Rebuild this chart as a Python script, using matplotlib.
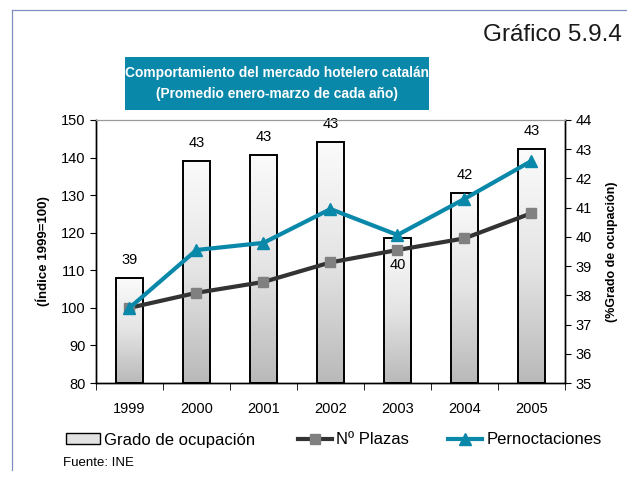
import numpy as np
import matplotlib.pyplot as plt
from matplotlib.lines import Line2D
from matplotlib.patches import Patch, Rectangle
from matplotlib.colors import LinearSegmentedColormap

plt.rcParams['font.family'] = ['Liberation Sans', 'DejaVu Sans']

years = ['1999', '2000', '2001', '2002', '2003', '2004', '2005']
ocupacion = [38.6, 42.6, 42.8, 43.25, 39.95, 41.5, 43.0]
ocupacion_labels = ['39', '43', '43', '43', '40', '42', '43']
plazas = [100, 104.0, 106.9, 112.1, 115.4, 118.5, 125.2]
pernoctaciones = [100, 115.4, 117.3, 126.3, 119.4, 129.0, 139.1]

TEAL = '#0a88aa'
x = np.arange(len(years))

fig = plt.figure(figsize=(6.27, 4.78), dpi=100)
ax = fig.add_axes([0.1531, 0.1987, 0.748, 0.5503])
ax2 = ax.twinx()
ax.set_zorder(ax2.get_zorder() + 1)
ax.patch.set_visible(False)

# bars with a vertical gradient (white top, grey bottom)
bar_cmap = LinearSegmentedColormap.from_list('bar', ['#fbfbfb', '#e4e4e4', '#b9b9b9'])
grad = np.linspace(0, 1, 256).reshape(-1, 1)
width = 0.41
for xi, v in zip(x, ocupacion):
    rect = Rectangle((xi - width / 2, 35), width, v - 35, facecolor='none',
                     edgecolor='black', linewidth=1.4, zorder=3)
    ax2.add_patch(rect)
    im = ax2.imshow(grad, cmap=bar_cmap, aspect='auto',
                    extent=(xi - width / 2, xi + width / 2, 35, v),
                    origin='upper', zorder=2)
    im.set_clip_path(rect)
for i, (xi, v, lab) in enumerate(zip(x, ocupacion, ocupacion_labels)):
    off = -14 if years[i] == '2003' else 8
    ax2.annotate(lab, (xi, v), xytext=(0, off), textcoords='offset points',
                 ha='center', va='bottom' if off > 0 else 'top', fontsize=10.5)

ax.plot(x, plazas, color='#333333', linewidth=3, marker='s', markersize=7,
        markerfacecolor='#808080', markeredgecolor='#808080', zorder=4)
ax.plot(x, pernoctaciones, color=TEAL, linewidth=3, marker='^', markersize=8,
        markerfacecolor=TEAL, markeredgecolor=TEAL, zorder=5)

ax.set_xlim(-0.5, 6.5)
ax.set_ylim(80, 150)
ax2.set_ylim(35, 44)
ax.set_yticks(range(80, 151, 10))
ax2.set_yticks(range(35, 45))

ax.set_xticks(x)
ax.set_xticklabels(years, fontsize=10.5)
ax.set_xticks(np.arange(-0.5, 7, 1), minor=True)
ax.tick_params(axis='x', which='major', length=0, pad=14)
ax.tick_params(axis='x', which='minor', length=5, direction='out')
ax.tick_params(axis='y', labelsize=10.5, length=4, direction='out')
ax2.tick_params(axis='y', labelsize=10.5, length=4, direction='out')

for a in (ax, ax2):
    a.spines['top'].set_color('#999999')
    a.spines['top'].set_linewidth(0.8)
    for s in ('left', 'right', 'bottom'):
        a.spines[s].set_linewidth(1.0)

ax.set_ylabel('(Índice 1999=100)', fontsize=9.5, fontweight='bold', labelpad=8)
ax2.set_ylabel('(%Grado de ocupación)', fontsize=9, fontweight='bold',
               rotation=90, labelpad=10)

# title box
x0, x1 = 125 / 627, 429 / 627
y0, y1 = 1 - 110 / 478, 1 - 57 / 478
fig.add_artist(Rectangle((x0, y0), x1 - x0, y1 - y0, transform=fig.transFigure,
                         facecolor=TEAL, edgecolor='none'))
fig.text((x0 + x1) / 2, (y0 + y1) / 2,
         'Comportamiento del mercado hotelero catalán\n(Promedio enero-marzo de cada año)',
         ha='center', va='center', color='white', fontsize=9.9, fontweight='bold',
         linespacing=1.6)
fig.text(0.992, 0.927, 'Gráfico 5.9.4', ha='right', va='center', fontsize=17.5,
         color='#1a1a1a')

# legend: one entry per box so each sits where the reference has it
entries = [
    (Patch(facecolor='#e2e2e2', edgecolor='black', linewidth=1.0), 'Grado de ocupación', 66),
    (Line2D([], [], color='#333333', linewidth=3, marker='s', markersize=7,
            markerfacecolor='#808080', markeredgecolor='#808080'), 'Nº Plazas', 298),
    (Line2D([], [], color=TEAL, linewidth=3, marker='^', markersize=8,
            markerfacecolor=TEAL, markeredgecolor=TEAL), 'Pernoctaciones', 448),
]
for h, lab, px in entries:
    fig.legend([h], [lab], loc='center left', bbox_to_anchor=(px / 627, 1 - 440 / 478),
               frameon=False, fontsize=12, handlelength=2.05, handletextpad=0.25,
               borderaxespad=0, borderpad=0, handleheight=0.6)
fig.text(63 / 627, 1 - 463 / 478, 'Fuente: INE', fontsize=9.5, ha='left', va='center')

# page frame lines
fig.add_artist(Line2D([12 / 627, 12 / 627], [1 - 10 / 478, 1 - 470 / 478],
                      color='#7f8fbf', linewidth=0.9))
fig.add_artist(Line2D([12 / 627, 1], [1 - 10 / 478, 1 - 10 / 478],
                      color='#7f8fbf', linewidth=0.9))

fig.savefig('out.png', dpi=100)
